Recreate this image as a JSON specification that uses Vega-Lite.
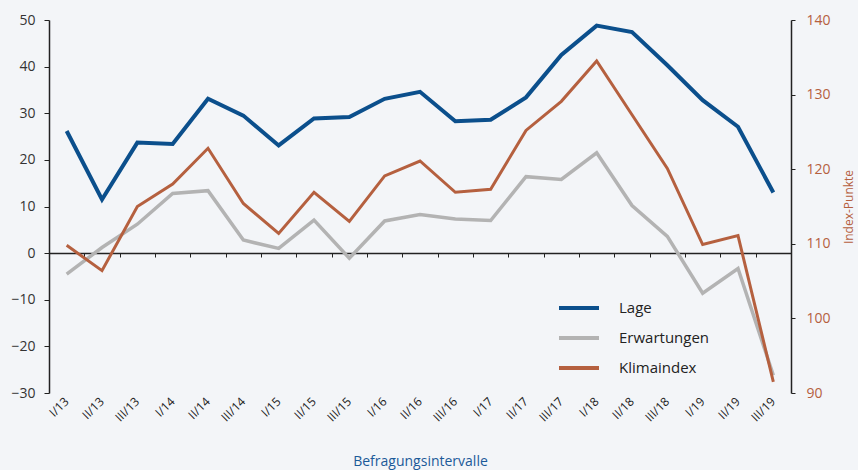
{
  "$schema": "https://vega.github.io/schema/vega-lite/v6.json",
  "width": 742,
  "height": 373,
  "autosize": "none",
  "padding": {"left": 49, "top": 20, "right": 67, "bottom": 77},
  "background": "#f3f5f8",
  "config": {
    "view": {"stroke": null},
    "font": "Open Sans",
    "axis": {"grid": false, "domainColor": "#222", "tickColor": "#222", "labelFont": "Open Sans", "titleFont": "Open Sans"},
    "legend": {"labelFont": "Open Sans"}
  },
  "data": {
    "values": [
      {"q": "I/13", "Lage": 26.2, "Erwartungen": -4.5, "Klimaindex": 109.8},
      {"q": "II/13", "Lage": 11.5, "Erwartungen": 1.2, "Klimaindex": 106.4},
      {"q": "III/13", "Lage": 23.7, "Erwartungen": 6.2, "Klimaindex": 115.0},
      {"q": "I/14", "Lage": 23.4, "Erwartungen": 12.8, "Klimaindex": 118.0},
      {"q": "II/14", "Lage": 33.1, "Erwartungen": 13.4, "Klimaindex": 122.8},
      {"q": "III/14", "Lage": 29.5, "Erwartungen": 2.8, "Klimaindex": 115.4},
      {"q": "I/15", "Lage": 23.1, "Erwartungen": 1.0, "Klimaindex": 111.4},
      {"q": "II/15", "Lage": 28.9, "Erwartungen": 7.1, "Klimaindex": 116.9},
      {"q": "III/15", "Lage": 29.2, "Erwartungen": -1.1, "Klimaindex": 113.0},
      {"q": "I/16", "Lage": 33.1, "Erwartungen": 6.9, "Klimaindex": 119.1},
      {"q": "II/16", "Lage": 34.6, "Erwartungen": 8.3, "Klimaindex": 121.1},
      {"q": "III/16", "Lage": 28.3, "Erwartungen": 7.3, "Klimaindex": 116.9},
      {"q": "I/17", "Lage": 28.6, "Erwartungen": 7.0, "Klimaindex": 117.3},
      {"q": "II/17", "Lage": 33.4, "Erwartungen": 16.4, "Klimaindex": 125.2},
      {"q": "III/17", "Lage": 42.5, "Erwartungen": 15.8, "Klimaindex": 129.1},
      {"q": "I/18", "Lage": 48.8, "Erwartungen": 21.5, "Klimaindex": 134.5},
      {"q": "II/18", "Lage": 47.4, "Erwartungen": 10.2, "Klimaindex": 127.3},
      {"q": "III/18", "Lage": 40.3, "Erwartungen": 3.6, "Klimaindex": 120.1},
      {"q": "I/19", "Lage": 32.8, "Erwartungen": -8.6, "Klimaindex": 109.9},
      {"q": "II/19", "Lage": 27.1, "Erwartungen": -3.3, "Klimaindex": 111.1},
      {"q": "III/19", "Lage": 13.0, "Erwartungen": -26.2, "Klimaindex": 91.5}
    ]
  },
  "layer": [
    {
      "transform": [{"fold": ["Erwartungen", "Lage"], "as": ["series", "v"]}],
      "mark": {"type": "line", "strokeJoin": "miter"},
      "encoding": {
        "x": {"field": "q", "type": "nominal", "sort": null, "scale": {"type": "band", "paddingInner": 0, "paddingOuter": 0},
          "axis": {"orient": "bottom", "offset": -140, "labels": false, "title": null, "ticks": true, "tickSize": 4, "tickBand": "extent", "domainColor": "#222", "domainWidth": 1.5}},
        "y": {"field": "v", "type": "quantitative", "scale": {"domain": [-30, 50], "nice": false, "zero": false},
          "axis": {"orient": "left", "title": null, "values": [-30, -20, -10, 0, 10, 20, 30, 40, 50], "tickSize": 5, "labelPadding": 9, "labelFontSize": 14, "labelColor": "#333", "domainWidth": 1.5}},
        "color": {"field": "series", "type": "nominal",
          "scale": {"domain": ["Lage", "Erwartungen", "Klimaindex"], "range": ["#0b4f8c", "#b3b3b3", "#b5603f"]},
          "legend": {"title": null, "orient": "none", "legendX": 508, "legendY": 266, "symbolType": "stroke", "symbolSize": 1600, "symbolStrokeWidth": 4, "labelFontSize": 15, "labelColor": "#222", "labelOffset": 18, "rowPadding": -16, "padding": 0}},
        "strokeWidth": {"field": "series", "type": "nominal", "scale": {"domain": ["Lage", "Erwartungen"], "range": [4, 3.5]}, "legend": null}
      }
    },
    {
      "transform": [{"fold": ["Klimaindex"], "as": ["series", "v"]}],
      "mark": {"type": "line", "strokeWidth": 3, "strokeJoin": "miter"},
      "encoding": {
        "x": {"field": "q", "type": "nominal", "sort": null, "scale": {"type": "band", "paddingInner": 0, "paddingOuter": 0},
          "axis": {"orient": "bottom", "labelAngle": -45, "labelAlign": "right", "labelBaseline": "middle", "labelFontSize": 12, "labelColor": "#222", "labelPadding": 6, "domain": false, "ticks": false, "title": "Befragungsintervalle", "titleColor": "#1b5a99", "titleFontSize": 14, "titleFontWeight": "normal", "titlePadding": 31}},
        "y": {"field": "v", "type": "quantitative", "scale": {"domain": [90, 140], "nice": false, "zero": false},
          "axis": {"orient": "right", "title": "Index-Punkte", "titleAngle": 270, "titleColor": "#b5603f", "titleFontSize": 12, "titleFontWeight": "normal", "titlePadding": 25, "values": [90, 100, 110, 120, 130, 140], "tickSize": 4, "labelPadding": 11, "labelFontSize": 14, "labelColor": "#b5603f", "domainWidth": 1.5}},
        "color": {"field": "series", "type": "nominal"}
      }
    }
  ],
  "resolve": {"scale": {"y": "independent"}, "axis": {"x": "independent"}}
}
